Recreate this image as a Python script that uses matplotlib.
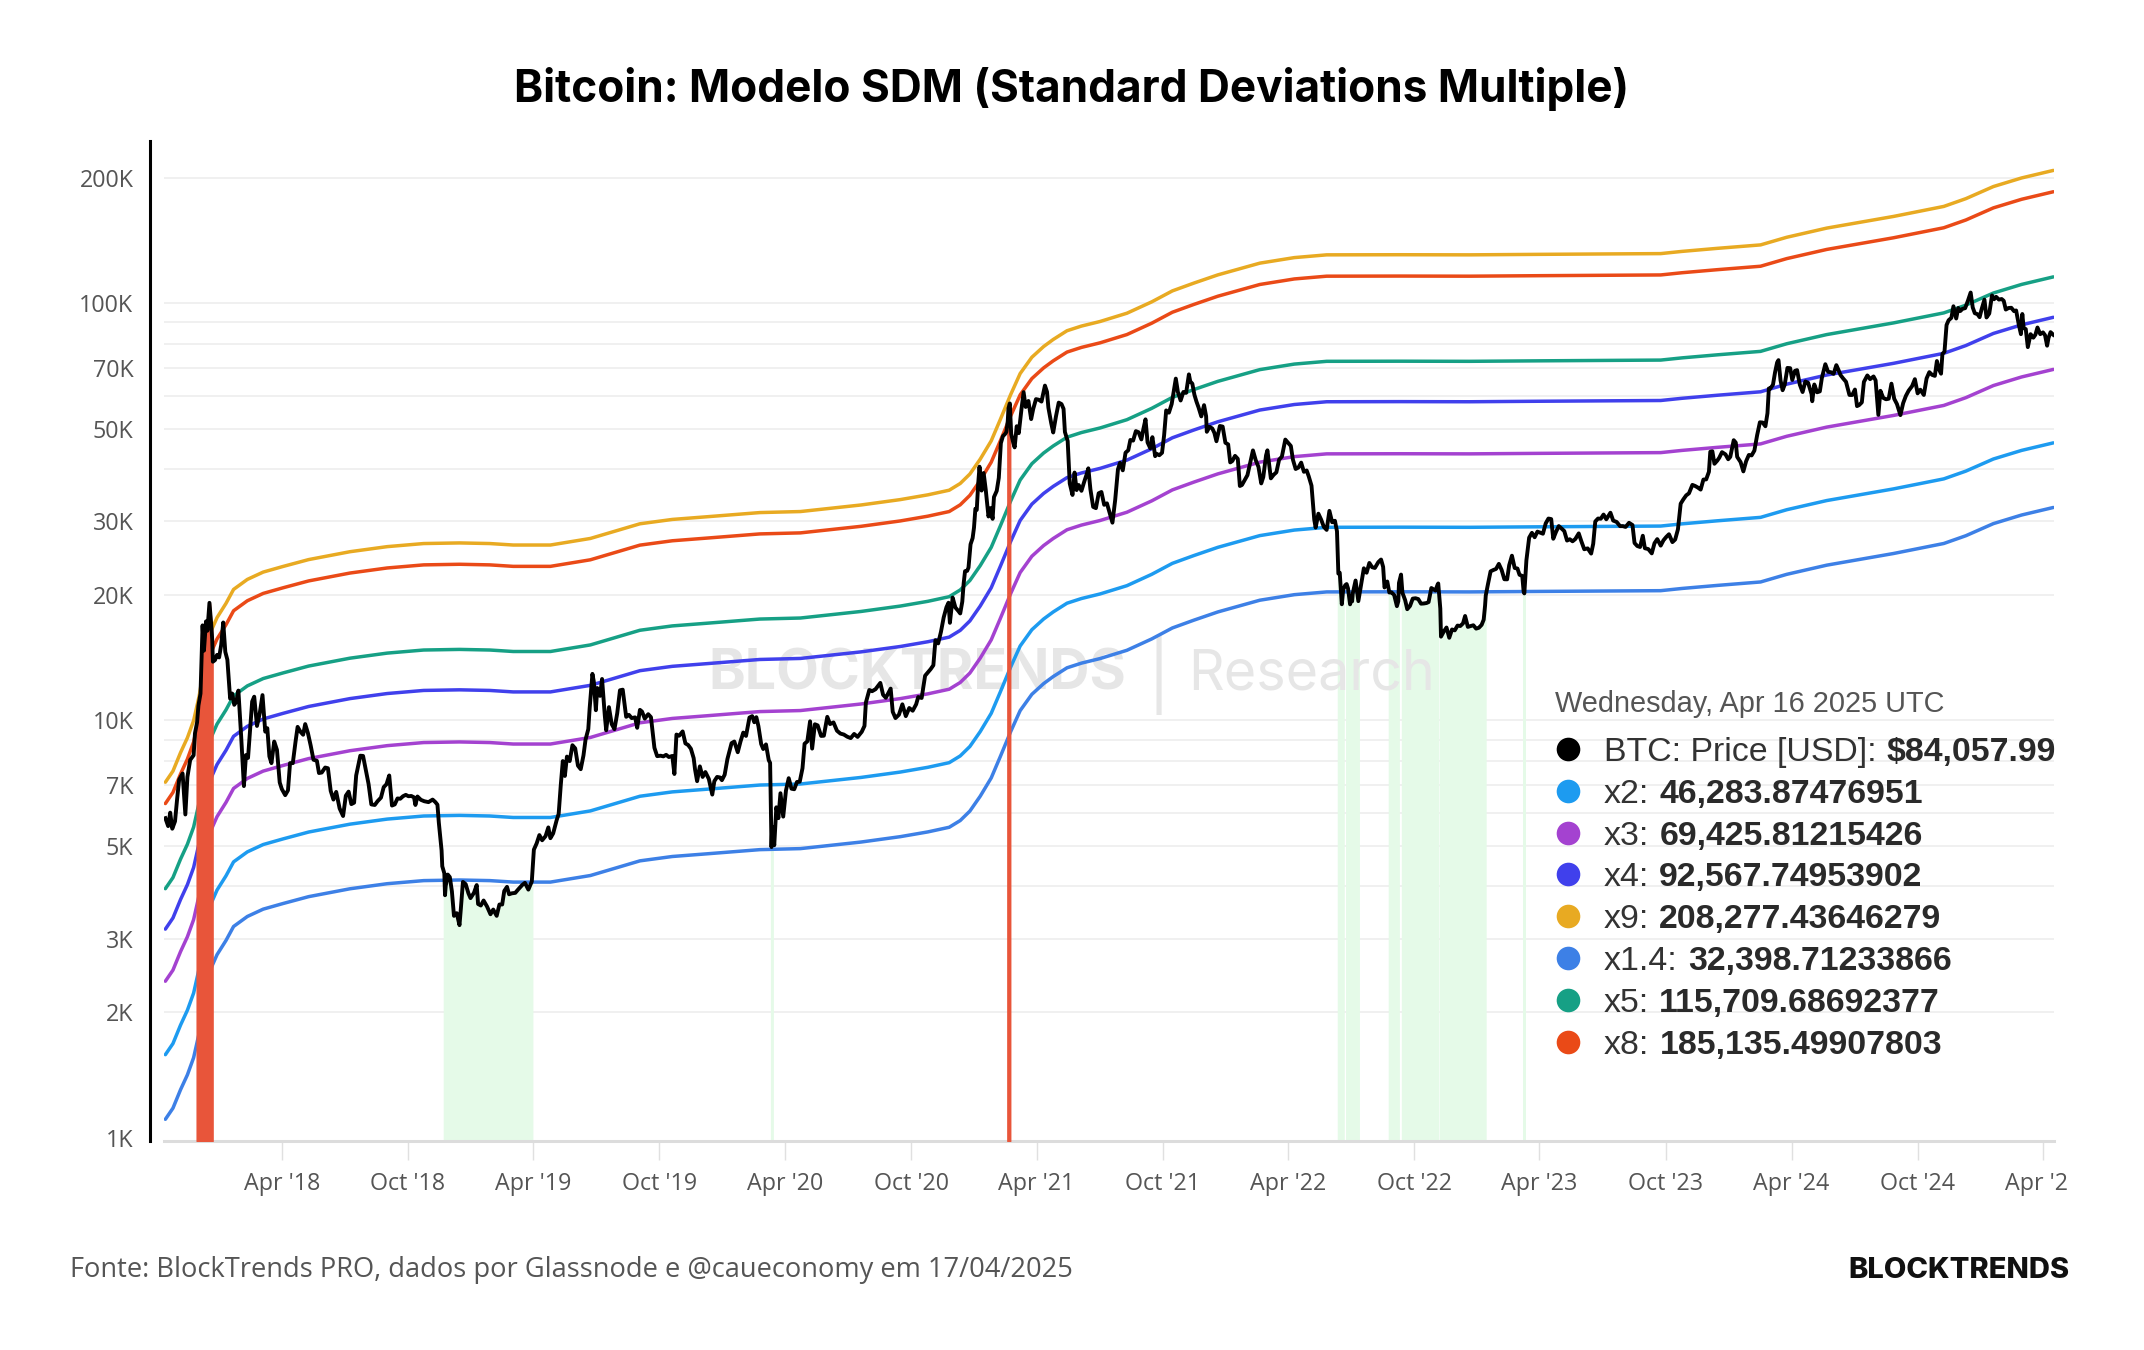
import numpy as np
import pandas as pd
import matplotlib
matplotlib.use("Agg")
import matplotlib.pyplot as plt
from matplotlib.lines import Line2D
from matplotlib.ticker import FixedLocator, NullLocator
from matplotlib.transforms import Bbox

# ---- BTC price (USD), roughly every few days ----
btc_2017 = [("10-14", 5830), ("10-18", 5580), ("10-21", 6010), ("10-24", 5500), ("10-28", 5730),
            ("10-31", 6470), ("11-03", 7210), ("11-08", 7460), ("11-12", 5950), ("11-15", 7320),
            ("11-19", 8040), ("11-24", 8250), ("11-26", 9320), ("11-29", 9890), ("12-01", 10860),
            ("12-04", 11600), ("12-07", 16900), ("12-09", 14700), ("12-12", 17280), ("12-14", 16410),
            ("12-17", 19140), ("12-20", 16620), ("12-21", 15600), ("12-22", 13830), ("12-25", 13950),
            ("12-28", 14360), ("12-31", 14160)]
btc_2018 = [("01-03", 15160), ("01-06", 17170), ("01-09", 14600), ("01-12", 13980), ("01-16", 11280),
            ("01-19", 11600), ("01-22", 10900), ("01-25", 11100), ("01-28", 11790), ("02-01", 9170),
            ("02-05", 6960), ("02-08", 8260), ("02-11", 8130), ("02-14", 9490), ("02-17", 11100),
            ("02-20", 11400), ("02-24", 9700), ("02-28", 10400), ("03-04", 11500), ("03-08", 9400),
            ("03-11", 9580), ("03-14", 8200), ("03-17", 7900), ("03-21", 8900), ("03-25", 8500),
            ("03-29", 7100), ("04-01", 6850), ("04-06", 6620), ("04-10", 6800), ("04-13", 7900),
            ("04-17", 7900), ("04-21", 8900), ("04-24", 9650), ("04-28", 9400), ("05-02", 9240),
            ("05-05", 9800), ("05-09", 9320), ("05-13", 8700), ("05-17", 8050), ("05-22", 8000),
            ("05-25", 7480), ("05-29", 7500), ("06-03", 7710), ("06-07", 7680), ("06-11", 6780),
            ("06-15", 6460), ("06-19", 6740), ("06-24", 6150), ("06-29", 5900), ("07-03", 6600),
            ("07-07", 6750), ("07-11", 6300), ("07-15", 6350), ("07-18", 7380), ("07-24", 8230),
            ("07-28", 8220), ("08-01", 7600), ("08-05", 7040), ("08-09", 6290), ("08-14", 6270),
            ("08-18", 6400), ("08-23", 6530), ("08-27", 6920), ("08-31", 7030), ("09-04", 7380),
            ("09-08", 6250), ("09-12", 6290), ("09-16", 6500), ("09-20", 6490), ("09-24", 6580),
            ("09-28", 6630), ("10-02", 6580), ("10-06", 6590), ("10-10", 6540), ("10-12", 6270),
            ("10-15", 6570), ("10-20", 6450), ("10-25", 6400), ("10-31", 6370), ("11-06", 6460),
            ("11-10", 6370), ("11-13", 6280), ("11-15", 5690), ("11-19", 4880), ("11-20", 4470),
            ("11-23", 4300), ("11-24", 3810), ("11-25", 4010), ("11-28", 4270), ("12-01", 4210),
            ("12-04", 3890), ("12-07", 3400), ("12-11", 3450), ("12-15", 3230), ("12-17", 3540),
            ("12-20", 4100), ("12-24", 4050), ("12-28", 3850), ("12-31", 3750)]
btc_2019 = [("01-05", 3860), ("01-09", 4030), ("01-11", 3630), ("01-15", 3600), ("01-19", 3700),
            ("01-24", 3580), ("01-29", 3430), ("02-02", 3520), ("02-07", 3400), ("02-11", 3620),
            ("02-15", 3620), ("02-18", 3900), ("02-22", 3990), ("02-25", 3830), ("03-01", 3850),
            ("03-06", 3860), ("03-10", 3930), ("03-16", 4030), ("03-20", 4080), ("03-25", 3930),
            ("03-30", 4110), ("04-02", 4900), ("04-06", 5070), ("04-10", 5310), ("04-14", 5160),
            ("04-19", 5280), ("04-23", 5540), ("04-26", 5220), ("04-30", 5360), ("05-05", 5760),
            ("05-08", 5970), ("05-11", 6980), ("05-14", 7990), ("05-17", 7360), ("05-20", 8190),
            ("05-24", 7990), ("05-28", 8720), ("06-01", 8570), ("06-05", 7790), ("06-09", 7640),
            ("06-13", 8240), ("06-16", 8990), ("06-20", 9530), ("06-22", 10700), ("06-26", 12930),
            ("06-28", 12400), ("07-01", 10580), ("07-03", 11960), ("07-07", 11450), ("07-10", 12570),
            ("07-14", 10260), ("07-16", 9470), ("07-20", 10760), ("07-24", 9800), ("07-28", 9530),
            ("08-01", 10400), ("08-05", 11810), ("08-09", 11850), ("08-14", 10200), ("08-18", 10310),
            ("08-22", 10130), ("08-27", 10170), ("08-30", 9600), ("09-03", 10600), ("09-06", 10500),
            ("09-10", 10100), ("09-15", 10350), ("09-19", 10180), ("09-24", 8600), ("09-28", 8210),
            ("10-03", 8230), ("10-07", 8200), ("10-11", 8270), ("10-15", 8170), ("10-20", 8220),
            ("10-23", 7440), ("10-26", 9250), ("10-30", 9190), ("11-04", 9410), ("11-08", 8810),
            ("11-12", 8730), ("11-16", 8550), ("11-20", 8120), ("11-22", 7630), ("11-25", 7150),
            ("11-29", 7760), ("12-03", 7320), ("12-07", 7520), ("12-12", 7240), ("12-17", 6640),
            ("12-20", 7150), ("12-24", 7320), ("12-28", 7300), ("12-31", 7190)]
btc_2020 = [("01-04", 7410), ("01-08", 8080), ("01-14", 8820), ("01-18", 8900), ("01-23", 8390),
            ("01-27", 8900), ("01-31", 9350), ("02-04", 9180), ("02-09", 10160), ("02-13", 10240),
            ("02-16", 9900), ("02-19", 10180), ("02-22", 9690), ("02-26", 8780), ("02-29", 8540),
            ("03-04", 8760), ("03-08", 8030), ("03-10", 7910), ("03-12", 4970), ("03-13", 5560),
            ("03-16", 5020), ("03-19", 6190), ("03-22", 5830), ("03-25", 6690), ("03-29", 5880),
            ("04-02", 6790), ("04-06", 7270), ("04-10", 6860), ("04-14", 6840), ("04-18", 7120),
            ("04-22", 7130), ("04-26", 7680), ("04-29", 8790), ("05-03", 8910), ("05-07", 9950),
            ("05-10", 8560), ("05-14", 9790), ("05-18", 9730), ("05-23", 9180), ("05-27", 9190),
            ("06-01", 10200), ("06-05", 9800), ("06-10", 9890), ("06-15", 9450), ("06-20", 9300),
            ("06-25", 9250), ("06-30", 9140), ("07-05", 9070), ("07-10", 9280), ("07-15", 9130),
            ("07-21", 9390), ("07-25", 9700), ("07-27", 11030), ("08-01", 11830), ("08-05", 11750),
            ("08-10", 11880), ("08-17", 12300), ("08-21", 11520), ("08-25", 11330), ("09-01", 11920),
            ("09-04", 10490), ("09-08", 10130), ("09-13", 10320), ("09-18", 10930), ("09-23", 10240),
            ("09-28", 10710), ("10-03", 10550), ("10-08", 10930), ("10-11", 11380), ("10-16", 11320),
            ("10-21", 12800), ("10-25", 13030), ("10-29", 13270), ("11-02", 13560), ("11-05", 15570),
            ("11-09", 15300), ("11-13", 16300), ("11-17", 17660), ("11-21", 18680), ("11-24", 19150),
            ("11-26", 17140), ("11-30", 19700), ("12-04", 18650), ("12-08", 18320), ("12-11", 18050),
            ("12-14", 19270), ("12-16", 21310), ("12-18", 22800), ("12-21", 22830), ("12-23", 23240),
            ("12-26", 26440), ("12-29", 27360), ("12-31", 28990)]
btc_2021 = [("01-02", 32170), ("01-04", 31970), ("01-06", 36770), ("01-08", 40580), ("01-11", 35570),
            ("01-14", 39190), ("01-17", 35790), ("01-21", 30830), ("01-24", 32290), ("01-27", 30430),
            ("01-29", 34320), ("02-02", 35510), ("02-05", 38150), ("02-08", 46200), ("02-11", 48040),
            ("02-14", 48580), ("02-16", 49150), ("02-18", 52150), ("02-19", 55970), ("02-21", 57540),
            ("02-23", 48620), ("02-26", 46340), ("02-28", 45140), ("03-03", 50740), ("03-06", 48830),
            ("03-10", 55890), ("03-13", 61240), ("03-16", 56430), ("03-20", 58330), ("03-24", 52770),
            ("03-27", 55850), ("03-31", 58920), ("04-04", 58730), ("04-08", 58130), ("04-13", 63500),
            ("04-16", 61340), ("04-18", 56210), ("04-22", 51700), ("04-25", 49010), ("04-29", 53570),
            ("05-03", 57800), ("05-07", 57350), ("05-10", 55850), ("05-12", 49150), ("05-16", 46760),
            ("05-19", 37000), ("05-23", 34720), ("05-26", 39290), ("05-29", 35670), ("06-01", 36680),
            ("06-05", 35520), ("06-09", 37340), ("06-13", 39100), ("06-15", 40220), ("06-18", 35820),
            ("06-22", 32510), ("06-26", 32280), ("06-30", 35040), ("07-04", 35290), ("07-08", 32880),
            ("07-12", 33150), ("07-16", 31390), ("07-20", 29790), ("07-24", 33790), ("07-28", 39990),
            ("07-31", 41460), ("08-04", 39770), ("08-08", 43840), ("08-12", 44440), ("08-15", 47030),
            ("08-19", 46870), ("08-23", 49380), ("08-27", 49070), ("08-31", 47170), ("09-03", 50040),
            ("09-06", 52700), ("09-09", 46400), ("09-13", 44900), ("09-16", 47760), ("09-20", 43010),
            ("09-22", 43580), ("09-26", 43230), ("09-30", 43830), ("10-03", 48230), ("10-06", 55360),
            ("10-10", 54680), ("10-14", 57360), ("10-17", 61530), ("10-20", 65990), ("10-23", 61310),
            ("10-27", 58480), ("10-31", 61300), ("11-04", 61010), ("11-08", 67550), ("11-10", 64950),
            ("11-13", 64160), ("11-16", 60370), ("11-19", 58120), ("11-22", 56290), ("11-26", 53570),
            ("11-30", 57000), ("12-03", 53600), ("12-04", 49200), ("12-08", 50580), ("12-12", 50100),
            ("12-15", 48900), ("12-18", 46700), ("12-23", 50800), ("12-27", 50640), ("12-31", 46310)]
btc_2022 = [("01-04", 45900), ("01-07", 41550), ("01-10", 41870), ("01-14", 43080), ("01-18", 42380),
            ("01-21", 36480), ("01-24", 36680), ("01-28", 37710), ("02-01", 38730), ("02-05", 41500),
            ("02-09", 44400), ("02-13", 42080), ("02-17", 40530), ("02-21", 37000), ("02-24", 38330),
            ("02-28", 43190), ("03-02", 44420), ("03-07", 38050), ("03-11", 38800), ("03-15", 39340),
            ("03-19", 42200), ("03-23", 42900), ("03-28", 47130), ("04-01", 46300), ("04-05", 45500),
            ("04-08", 42200), ("04-12", 40070), ("04-16", 40390), ("04-20", 41500), ("04-24", 39450),
            ("04-28", 39740), ("05-01", 38470), ("05-05", 36550), ("05-09", 30300), ("05-11", 28990),
            ("05-15", 31310), ("05-19", 30300), ("05-23", 29100), ("05-27", 28630), ("05-31", 31800),
            ("06-04", 29860), ("06-08", 30110), ("06-11", 28400), ("06-13", 22490), ("06-15", 22600),
            ("06-18", 18990), ("06-20", 20580), ("06-23", 21100), ("06-25", 21230), ("06-27", 20730),
            ("06-30", 18980), ("07-01", 19300), ("07-03", 19300), ("07-04", 20200), ("07-08", 21650),
            ("07-12", 19320), ("07-16", 21180), ("07-20", 23160), ("07-24", 22600), ("07-28", 23850),
            ("08-01", 23300), ("08-05", 23200), ("08-10", 23960), ("08-14", 24310), ("08-17", 23340),
            ("08-19", 20830), ("08-23", 21530), ("08-26", 20260), ("08-29", 20290), ("09-02", 19990),
            ("09-06", 18790), ("09-08", 19300), ("09-09", 21360), ("09-12", 22370), ("09-14", 20240),
            ("09-18", 19420), ("09-21", 18480), ("09-25", 18810), ("09-29", 19590), ("10-03", 19630),
            ("10-07", 19540), ("10-11", 19050), ("10-15", 19070), ("10-19", 19120), ("10-22", 19220),
            ("10-26", 20770), ("10-29", 20630), ("11-01", 20480), ("11-04", 21150), ("11-05", 21300),
            ("11-08", 18540), ("11-09", 15880), ("11-13", 16330), ("11-17", 16700), ("11-21", 15780),
            ("11-25", 16520), ("11-29", 16440), ("12-03", 16880), ("12-07", 16840), ("12-11", 17090),
            ("12-14", 17800), ("12-18", 16760), ("12-22", 16830), ("12-26", 16910), ("12-30", 16600)]
btc_2023 = [("01-03", 16680), ("01-07", 16950), ("01-10", 17440), ("01-12", 18850), ("01-13", 19930),
            ("01-16", 21140), ("01-20", 22770), ("01-24", 22940), ("01-28", 23080), ("02-01", 23730),
            ("02-05", 22960), ("02-09", 21800), ("02-13", 21790), ("02-16", 23550), ("02-20", 24830),
            ("02-24", 23200), ("02-28", 23130), ("03-03", 22350), ("03-07", 22200), ("03-09", 20360),
            ("03-10", 20160), ("03-13", 24200), ("03-17", 27430), ("03-21", 28170), ("03-25", 27490),
            ("03-29", 28350), ("04-02", 28200), ("04-06", 28030), ("04-10", 29670), ("04-14", 30480),
            ("04-18", 30390), ("04-21", 27260), ("04-25", 28320), ("04-29", 29240), ("05-03", 28850),
            ("05-07", 28440), ("05-11", 26990), ("05-15", 27190), ("05-19", 26880), ("05-23", 27220),
            ("05-28", 28080), ("06-01", 26820), ("06-05", 25730), ("06-10", 25850), ("06-15", 25120),
            ("06-18", 26510), ("06-21", 29990), ("06-25", 30480), ("06-29", 30450), ("07-03", 31160),
            ("07-07", 30350), ("07-13", 31470), ("07-17", 30140), ("07-22", 29910), ("07-27", 29230),
            ("07-31", 29230), ("08-04", 29100), ("08-09", 29770), ("08-14", 29410), ("08-17", 26630),
            ("08-21", 26190), ("08-25", 26050), ("08-29", 27720), ("09-01", 25870), ("09-06", 25750),
            ("09-11", 25150), ("09-15", 26600), ("09-19", 27210), ("09-24", 26250), ("09-28", 27030),
            ("10-02", 27530), ("10-06", 27950), ("10-11", 26760), ("10-15", 27150), ("10-19", 28710),
            ("10-23", 33090), ("10-27", 33910), ("10-31", 34640), ("11-04", 35030), ("11-09", 36700),
            ("11-13", 36480), ("11-17", 36160), ("11-21", 35760), ("11-25", 37800), ("11-29", 37830),
            ("12-03", 39460), ("12-05", 44080), ("12-08", 44180), ("12-11", 41240), ("12-15", 41940),
            ("12-18", 42640), ("12-22", 43970), ("12-27", 43440), ("12-31", 42280)]
btc_2024 = [("01-03", 42850), ("01-08", 46970), ("01-11", 46350), ("01-13", 42850), ("01-18", 41620),
            ("01-22", 39540), ("01-26", 41820), ("01-30", 43300), ("02-03", 43190), ("02-07", 44350),
            ("02-11", 48300), ("02-15", 51850), ("02-19", 51780), ("02-23", 50730), ("02-26", 54520),
            ("02-28", 62500), ("03-01", 62430), ("03-05", 63800), ("03-08", 68300), ("03-11", 72120),
            ("03-13", 73080), ("03-16", 65300), ("03-19", 61900), ("03-22", 63800), ("03-26", 70000),
            ("03-30", 69900), ("04-02", 65500), ("04-06", 68900), ("04-09", 69150), ("04-13", 63800),
            ("04-17", 61280), ("04-21", 64960), ("04-25", 64480), ("04-30", 60610), ("05-01", 58250),
            ("05-04", 63890), ("05-08", 61190), ("05-12", 61500), ("05-15", 66270), ("05-20", 71450),
            ("05-24", 68520), ("05-28", 68370), ("06-01", 67750), ("06-05", 71080), ("06-08", 69300),
            ("06-11", 67320), ("06-15", 66010), ("06-19", 64850), ("06-24", 60300), ("06-28", 60280),
            ("07-02", 62130), ("07-05", 56700), ("07-08", 57020), ("07-12", 57880), ("07-15", 64800),
            ("07-20", 67160), ("07-24", 65800), ("07-29", 66780), ("08-01", 65350), ("08-05", 54020),
            ("08-08", 61700), ("08-12", 59350), ("08-16", 58880), ("08-20", 59050), ("08-24", 64180),
            ("08-28", 59050), ("09-01", 57330), ("09-06", 53950), ("09-10", 57650), ("09-14", 60010),
            ("09-18", 61760), ("09-23", 63330), ("09-27", 65790), ("10-01", 60840), ("10-05", 62070),
            ("10-10", 60300), ("10-14", 66050), ("10-18", 68390), ("10-22", 67370), ("10-26", 67000),
            ("10-29", 72720), ("11-01", 69480), ("11-04", 67810), ("11-06", 75640), ("11-09", 76540),
            ("11-12", 88700), ("11-15", 91070), ("11-19", 92310), ("11-22", 98400), ("11-26", 91950),
            ("11-29", 97450), ("12-02", 95830), ("12-05", 96980), ("12-09", 97370), ("12-13", 101400),
            ("12-17", 106140), ("12-20", 97750), ("12-23", 94700), ("12-27", 94160), ("12-30", 92640)]
btc_2025 = [("01-02", 96880), ("01-06", 102080), ("01-09", 92490), ("01-13", 94520), ("01-17", 104460),
            ("01-20", 102260), ("01-23", 103650), ("01-27", 102080), ("01-31", 102400), ("02-03", 101400),
            ("02-06", 96620), ("02-10", 97440), ("02-14", 97570), ("02-18", 95770), ("02-21", 96130),
            ("02-25", 88700), ("02-28", 84350), ("03-02", 94270), ("03-04", 87220), ("03-07", 86740),
            ("03-10", 78530), ("03-14", 84330), ("03-18", 82720), ("03-21", 84080), ("03-24", 87500),
            ("03-28", 84350), ("04-01", 85170), ("04-04", 83860), ("04-07", 79140), ("04-09", 82580),
            ("04-12", 85290), ("04-16", 84058)]

sdm_dates = ["2017-10-14", "2017-10-25", "2017-11-05", "2017-11-15", "2017-11-24", "2017-12-02",
             "2017-12-10", "2017-12-20", "2017-12-28", "2018-01-10", "2018-01-21", "2018-02-10",
             "2018-03-05", "2018-04-03", "2018-05-10", "2018-07-09", "2018-09-01", "2018-10-24",
             "2018-12-15", "2019-01-28", "2019-03-03", "2019-04-26", "2019-06-23", "2019-08-01",
             "2019-09-03", "2019-10-20", "2019-12-09", "2020-02-24", "2020-04-23", "2020-07-20",
             "2020-09-15", "2020-10-25", "2020-11-25", "2020-12-11", "2020-12-25", "2021-01-09",
             "2021-01-25", "2021-02-07", "2021-02-22", "2021-03-08", "2021-03-25", "2021-04-11",
             "2021-04-25", "2021-05-15", "2021-06-05", "2021-07-02", "2021-08-10", "2021-09-15",
             "2021-10-15", "2021-11-15", "2021-12-20", "2022-02-19", "2022-04-10", "2022-05-27",
             "2022-09-11", "2022-12-20", "2023-04-01", "2023-09-24", "2023-10-25", "2023-12-15",
             "2024-02-16", "2024-03-25", "2024-05-22", "2024-08-27", "2024-11-08", "2024-12-10",
             "2025-01-19", "2025-03-01", "2025-04-16"]
sdm_base = [790, 840, 930, 1010, 1110, 1270,
            1520, 1830, 1960, 2120, 2290, 2420,
            2520, 2600, 2700, 2820, 2900, 2950,
            2960, 2950, 2926, 2926, 3034, 3170,
            3290, 3370, 3420, 3500, 3520, 3650,
            3760, 3860, 3960, 4110, 4330, 4700,
            5200, 5840, 6700, 7540, 8250, 8750,
            9100, 9550, 9800, 10050, 10520, 11200,
            11900, 12420, 13000, 13870, 14300, 14520,
            14530, 14520, 14560, 14620, 14800, 15050,
            15340, 16000, 16830, 17950, 18970, 19800,
            21170, 22200, 23141.94]

band_names = ["x1.4", "x2", "x3", "x4", "x5", "x8", "x9"]
band_mult = [1.4, 2, 3, 4, 5, 8, 9]
band_colors = ["#3d80e6", "#1d9bf0", "#a442d0", "#4040ec", "#16a085", "#ea4a17", "#e8aa22"]

# highlighted periods: price above x8 (red), price below x1.4 (green)
red_periods = [("2017-11-29", "2017-12-21"), ("2021-02-18", "2021-02-21")]
green_periods = [("2018-11-23", "2019-03-30"), ("2020-03-12", "2020-03-13"),
                 ("2022-06-13", "2022-06-20"), ("2022-06-25", "2022-07-01"), ("2022-07-03", "2022-07-12"),
                 ("2022-08-26", "2022-09-08"), ("2022-09-14", "2022-11-04"), ("2022-11-08", "2023-01-12"),
                 ("2023-03-09", "2023-03-10")]

# legend (tooltip) on 16 Apr 2025
legend_date = "Wednesday, Apr 16 2025 UTC"
legend_labels = ["BTC: Price [USD]:", "x2:", "x3:", "x4:", "x9:", "x1.4:", "x5:", "x8:"]
legend_values = ["$84,057.99", "46,283.87476951", "69,425.81215426", "92,567.74953902",
                 "208,277.43646279", "32,398.71233866", "115,709.68692377", "185,135.49907803"]
legend_colors = ["#000000", "#1d9bf0", "#a442d0", "#4040ec", "#e8aa22", "#3d80e6", "#16a085", "#ea4a17"]

ytick_vals = [1e3, 2e3, 3e3, 5e3, 7e3, 1e4, 2e4, 3e4, 5e4, 7e4, 1e5, 2e5]
ytick_text = ["1K", "2K", "3K", "5K", "7K", "10K", "20K", "30K", "50K", "70K", "100K", "200K"]

# ---- build series ----
rows = []
for yr, lst in [(2017, btc_2017), (2018, btc_2018), (2019, btc_2019), (2020, btc_2020),
                (2021, btc_2021), (2022, btc_2022), (2023, btc_2023), (2024, btc_2024), (2025, btc_2025)]:
    for md, v in lst:
        rows.append((pd.Timestamp(f"{yr}-{md}"), v))
px = pd.DataFrame(rows, columns=["date", "price"])
sdm = pd.DataFrame({"date": pd.to_datetime(sdm_dates), "base": sdm_base})

W, H = 2144, 1350
fig = plt.figure(figsize=(W / 200, H / 200), dpi=200)
ax = fig.add_axes([164 / W, 1 - 1141 / H, (2054 - 164) / W, (1141 - 141) / H])
ax.set_facecolor("none")

ymin, ymax = 981, 245000
ax.set_yscale("log")
ax.set_ylim(ymin, ymax)
ax.set_xlim(pd.Timestamp("2017-10-12"), pd.Timestamp("2025-04-17"))

# grid: every minor log step
grid_vals = [m * 10 ** e for e in range(3, 6) for m in range(1, 10) if m * 10 ** e < ymax]
for g in grid_vals[1:]:
    ax.axhline(g, color="#eeeeee", lw=0.6, zorder=0)

# shaded periods
def shade(periods, color, z):
    for a, b in periods:
        m = (px["date"] >= pd.Timestamp(a)) & (px["date"] <= pd.Timestamp(b))
        sub = px[m]
        ax.fill_between(sub["date"], ymin, sub["price"], color=color, lw=0.8, edgecolor=color, zorder=z)

shade(green_periods, "#e5fae8", 0.5)

# bands
for name, mult, col in zip(band_names, band_mult, band_colors):
    ax.plot(sdm["date"], sdm["base"] * mult, color=col, lw=1.25, zorder=2, solid_capstyle="round")

shade(red_periods, "#e8553a", 3)

ax.plot(px["date"], px["price"], color="black", lw=1.4, zorder=4, solid_joinstyle="round")

# watermark
wm = dict(transform=fig.transFigure, ha="center", va="center", color="#e6e6e6",
          family=["Inter", "DejaVu Sans"], zorder=1)
ax.text(917 / W, 1 - 675 / H, "BLOCKTRENDS", fontsize=20, fontweight="bold", **wm)
ax.text(1159 / W, 1 - 675 / H, "|", fontsize=24, **wm)
ax.text(1312 / W, 1 - 675 / H, "Research", fontsize=20, **wm)

# axes styling
for s in ["top", "right"]:
    ax.spines[s].set_visible(False)
ax.spines["left"].set_position(("outward", 5))
ax.spines["left"].set_color("black")
ax.spines["left"].set_linewidth(1.1)
ax.spines["bottom"].set_color("#dcdcdc")
ax.spines["bottom"].set_linewidth(1.1)

ax.yaxis.set_major_locator(FixedLocator(ytick_vals))
ax.yaxis.set_minor_locator(NullLocator())
ax.set_yticklabels(ytick_text)
ax.tick_params(axis="y", length=0, pad=6, labelsize=8.4, labelcolor="#555555")

xt = pd.date_range("2018-04-01", "2025-04-01", freq="6MS")
ax.set_xticks(xt)
ax.set_xticklabels([d.strftime("%b '%y") for d in xt])
ax.xaxis.set_minor_locator(NullLocator())
ax.tick_params(axis="x", length=7, width=0.5, color="#e0e0e0", pad=4, labelsize=8.4, labelcolor="#555555")
for lab in ax.get_xticklabels() + ax.get_yticklabels():
    lab.set_family(["Open Sans", "DejaVu Sans"])
# the last date label is cut off at the right edge of the chart container
clip = Bbox.from_extents(0, 0, 2067, H)
ax.get_xticklabels()[-1].set_clip_box(clip)
ax.get_xticklabels()[-1].set_clip_on(True)

# title
fig.text(0.5, 1 - 89 / H, "Bitcoin: Modelo SDM (Standard Deviations Multiple)", ha="center", va="center",
         fontsize=15.9, fontweight="bold", color="black", family=["Inter", "DejaVu Sans"])

# tooltip-style legend
fig.canvas.draw()
rend = fig.canvas.get_renderer()
lfam = ["Liberation Sans", "DejaVu Sans"]
fig.text(1555 / W, 1 - 704 / H, legend_date, ha="left", va="center", fontsize=10.4, color="#555555", family=lfam)
for i, (lab, val, col) in enumerate(zip(legend_labels, legend_values, legend_colors)):
    y = 1 - (749 + i * 41.8) / H
    fig.add_artist(Line2D([1568 / W], [y], marker="o", ms=7.5, color=col, transform=fig.transFigure))
    t = fig.text(1604 / W, y, lab, ha="left", va="center_baseline", fontsize=12.2, color="#333333", family=lfam)
    bb = t.get_window_extent(rend)
    fig.text((bb.x1 + 10) / W, y, val, ha="left", va="center_baseline", fontsize=12.2, fontweight="bold",
             color="#2a2a2a", family=lfam)

# footer
fig.text(70 / W, 1 - 1270 / H, "Fonte: BlockTrends PRO, dados por Glassnode e @caueconomy em 17/04/2025",
         ha="left", va="center", fontsize=9.8, color="#555555", family=["Open Sans", "DejaVu Sans"])
fig.text(2069 / W, 1 - 1270 / H, "BLOCKTRENDS", ha="right", va="center", fontsize=10.5, fontweight="heavy",
         color="#111111", family=["Inter", "DejaVu Sans"])

fig.savefig("out.png", dpi=200, facecolor="white")
